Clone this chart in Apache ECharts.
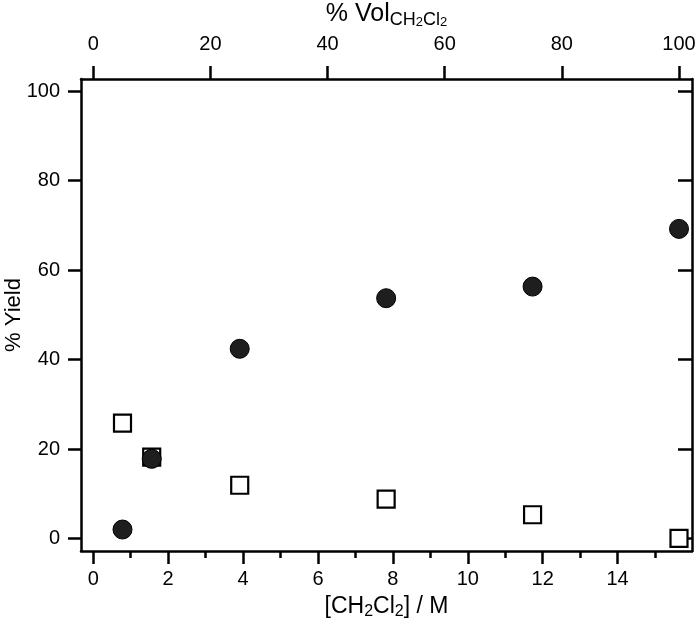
<!DOCTYPE html>
<html>
<head>
<meta charset="utf-8">
<script src="https://cdn.jsdelivr.net/npm/echarts@6/dist/echarts.min.js"></script>
<style>
html,body{margin:0;padding:0;background:#fff;}
#chart{width:700px;height:627px;}
</style>
</head>
<body>
<div id="chart"></div>
<script>
// Data
var concM = [0.78, 1.56, 3.91, 7.82, 11.73, 15.64];
var yieldFilled = [2.0, 17.8, 42.4, 53.7, 56.3, 69.2];
var yieldOpen = [25.8, 18.2, 11.9, 8.8, 5.3, 0.0];
var xTicks = [0, 2, 4, 6, 8, 10, 12, 14];
var xMinorTicks = [1, 3, 5, 7, 9, 11, 13, 15];
var yTicks = [0, 20, 40, 60, 80, 100];
var topTicks = [0, 20, 40, 60, 80, 100];
var pureM = 15.64; // 100 % vol

var FONT = 'Liberation Sans, Arial, Helvetica, sans-serif';
var xMin = -0.328, xMax = 15.987;
var yMin = -2.8, yMax = 102.7;
var gridPos = {left: 81, right: 8, top: 79, bottom: 76};
var lw = 2.5;

function pairs(xs, ys) { return xs.map(function (x, i) { return [x, ys[i]]; }); }

var chart = echarts.init(document.getElementById('chart'), null, {renderer: 'canvas'});
var option = {
  backgroundColor: '#fff',
  animation: false,
  textStyle: {fontFamily: FONT},
  grid: [
    Object.assign({containLabel: false, outerBoundsMode: 'none'}, gridPos),
    Object.assign({containLabel: false, outerBoundsMode: 'none'}, gridPos)
  ],
  xAxis: [
    {
      type: 'value', gridIndex: 0, position: 'bottom', min: xMin, max: xMax,
      axisLine: {show: true, onZero: false, lineStyle: {color: '#000', width: lw}},
      axisTick: {show: true, inside: false, length: 13, lineStyle: {color: '#000', width: lw}, customValues: xTicks},
      axisLabel: {show: true, color: '#000', fontSize: 20, fontFamily: FONT, margin: 18, customValues: xTicks},
      splitLine: {show: false},
      name: '[CH{s|2}Cl{s|2}] / M',
      nameLocation: 'middle', nameGap: 43, nameMoveOverlap: false,
      nameTextStyle: {color: '#000', fontSize: 23, fontFamily: FONT, lineHeight: 26,
        rich: {s: {fontSize: 16, lineHeight: 12, verticalAlign: 'bottom', color: '#000', fontFamily: FONT}}}
    },
    {
      type: 'value', gridIndex: 0, position: 'top', min: xMin * 100 / pureM, max: xMax * 100 / pureM,
      axisLine: {show: true, onZero: false, lineStyle: {color: '#000', width: lw}},
      axisTick: {show: true, inside: false, length: 13, lineStyle: {color: '#000', width: lw}, customValues: topTicks},
      axisLabel: {show: true, color: '#000', fontSize: 20, fontFamily: FONT, margin: 25, customValues: topTicks},
      splitLine: {show: false},
      name: '% Vol{a|CH}{b|2}{a|Cl}{b|2}',
      nameLocation: 'middle', nameGap: 50, nameMoveOverlap: false,
      nameTextStyle: {color: '#000', fontSize: 25, fontFamily: FONT, lineHeight: 30,
        rich: {
          a: {fontSize: 18, lineHeight: 18, verticalAlign: 'bottom', color: '#000', fontFamily: FONT},
          b: {fontSize: 13, lineHeight: 11, verticalAlign: 'bottom', color: '#000', fontFamily: FONT}
        }}
    },
    {
      type: 'value', gridIndex: 1, position: 'bottom', min: xMin, max: xMax,
      axisLine: {show: false, onZero: false},
      axisTick: {show: true, inside: false, length: 7, lineStyle: {color: '#000', width: lw}, customValues: xMinorTicks},
      axisLabel: {show: false},
      splitLine: {show: false}
    }
  ],
  yAxis: [
    {
      type: 'value', gridIndex: 0, position: 'left', min: yMin, max: yMax,
      axisLine: {show: true, onZero: false, lineStyle: {color: '#000', width: lw}},
      axisTick: {show: true, inside: false, length: 13, lineStyle: {color: '#000', width: lw}, customValues: yTicks},
      axisLabel: {show: true, color: '#000', fontSize: 20, fontFamily: FONT, margin: 21, customValues: yTicks},
      splitLine: {show: false},
      name: '% Yield', nameLocation: 'middle', nameGap: 56, nameMoveOverlap: false,
      nameTextStyle: {color: '#000', fontSize: 22, fontFamily: FONT}
    },
    {
      type: 'value', gridIndex: 0, position: 'right', min: yMin, max: yMax,
      axisLine: {show: true, onZero: false, lineStyle: {color: '#000', width: lw}},
      axisTick: {show: true, inside: true, length: 14, lineStyle: {color: '#000', width: lw}, customValues: yTicks},
      axisLabel: {show: false},
      splitLine: {show: false}
    },
    {
      type: 'value', gridIndex: 1, min: yMin, max: yMax, show: false
    }
  ],
  series: [
    {
      type: 'scatter', xAxisIndex: 0, yAxisIndex: 0,
      data: pairs(concM, yieldOpen),
      symbol: 'rect', symbolSize: 17,
      itemStyle: {color: '#fff', borderColor: '#000', borderWidth: 2.2, opacity: 1},
      z: 3
    },
    {
      type: 'scatter', xAxisIndex: 0, yAxisIndex: 0,
      data: pairs(concM, yieldFilled),
      symbol: 'circle', symbolSize: 19,
      itemStyle: {color: '#1e1e1e', borderColor: '#000', borderWidth: 1, opacity: 1},
      z: 4
    }
  ]
};
chart.setOption(option);
</script>
</body>
</html>
